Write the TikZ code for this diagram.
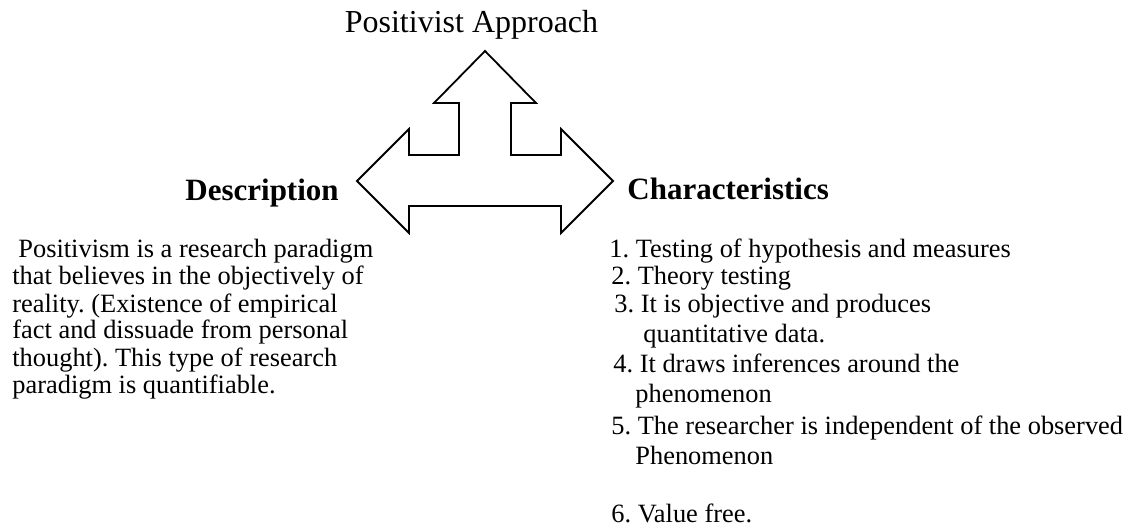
\documentclass[tikz,border=0pt]{standalone}
\usepackage{fontspec}
\setmainfont{Liberation Serif}
\frenchspacing

\tikzset{
  bodyline/.style={anchor=base west, inner sep=0pt, font=\fontsize{13.2}{15}\selectfont},
  heading/.style={anchor=base west, inner sep=0pt, font=\fontsize{15.5}{18}\selectfont\bfseries},
  blockarrow/.style={draw, line width=0.9pt, fill=white, line join=miter}
}

\begin{document}
\begin{tikzpicture}[x=0.5pt, y=-0.5pt]
  \useasboundingbox (0, 0) rectangle (1134, 529);

  \node[anchor=base, inner sep=0pt, font=\fontsize{16}{19}\selectfont] (title) at (471.5, 33) {Positivist Approach};

  % three-headed block arrow
  \draw[blockarrow] (485, 51) -- (536, 103) -- (511, 103) -- (511, 155) -- (561, 155) -- (561, 129)
    -- (613, 181) -- (561, 233) -- (561, 206) -- (409, 206) -- (409, 233) -- (357, 181)
    -- (409, 129) -- (409, 155) -- (459, 155) -- (459, 103) -- (434, 103) -- cycle;

  \node[heading] (desc) at (185, 201) {Description};
  \node[heading] (chars) at (627, 200) {Characteristics};

  \foreach \x/\y/\txt [count=\i] in {
      18/257/{Positivism is a research paradigm},
      12/285/{that believes in the objectively of},
      12/312/{reality. (Existence of empirical},
      12/338/{fact and dissuade from personal},
      12/366/{thought). This type of research},
      12/393/{paradigm is quantifiable.}}
    \node[bodyline] (d\i) at (\x, \y) {\txt};

  \foreach \x/\y/\txt [count=\i] in {
      609/257/{1. Testing of hypothesis and measures},
      611/285/{2. Theory testing},
      614/312/{3. It is objective and produces},
      643/342/{quantitative data.},
      613/372/{4. It draws inferences around the},
      635/402/{phenomenon},
      611/434/{5. The researcher is independent of the observed},
      635/464/{Phenomenon},
      611/522/{6. Value free.}}
    \node[bodyline] (c\i) at (\x, \y) {\txt};
\end{tikzpicture}
\end{document}
